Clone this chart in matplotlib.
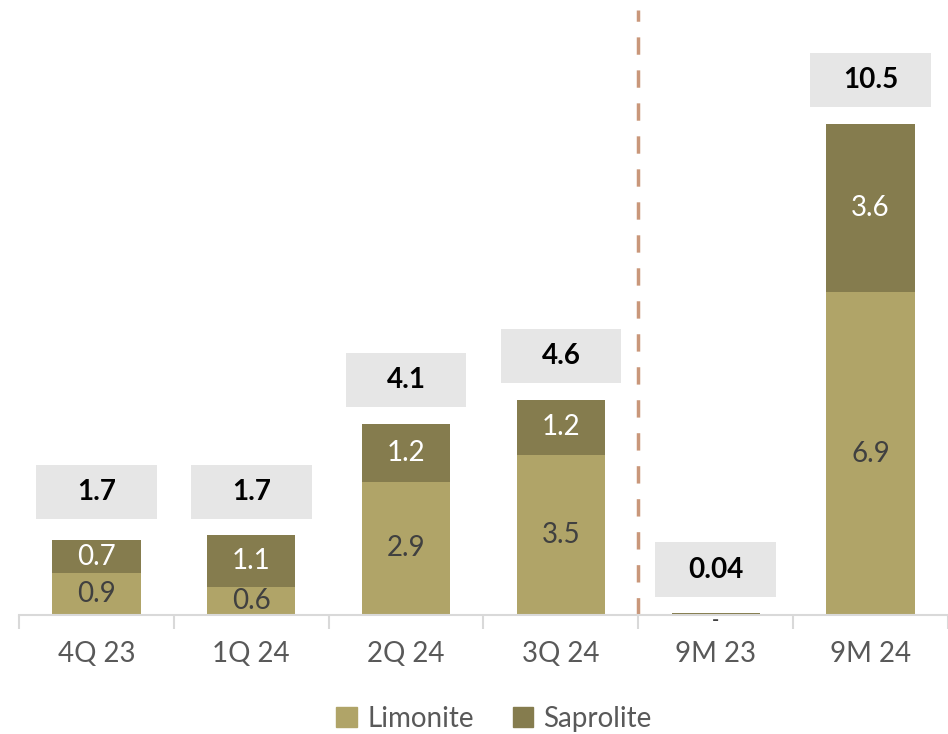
import matplotlib
matplotlib.use("Agg")
import matplotlib.pyplot as plt
from matplotlib.patches import Patch, Rectangle

categories = ["4Q 23", "1Q 24", "2Q 24", "3Q 24", "9M 23", "9M 24"]
limonite = [0.9, 0.6, 2.85, 3.42, 0.02, 6.9]
saprolite = [0.7, 1.1, 1.23, 1.18, 0.02, 3.6]
limonite_labels = ["0.9", "0.6", "2.9", "3.5", "", "6.9"]
saprolite_labels = ["0.7", "1.1", "1.2", "1.2", "-", "3.6"]
total_labels = ["1.7", "1.7", "4.1", "4.6", "0.04", "10.5"]
totals = [1.7, 1.7, 4.1, 4.6, 0.04, 10.5]

C_LIM = "#B0A468"
C_SAP = "#857C4E"
TXT = "#595959"
FS = 20

plt.rcParams["font.family"] = ["Lato", "DejaVu Sans"]

fig = plt.figure(figsize=(9.48, 7.34), dpi=100)
ax = fig.add_axes([19 / 948, 1 - 615 / 734, 1 - 19 / 948, (615 - 10) / 734])

x = list(range(len(categories)))
w = 0.57
ax.bar(x, limonite, w, color=C_LIM, label="Limonite", zorder=2)
ax.bar(x, saprolite, w, bottom=limonite, color=C_SAP, label="Saprolite", zorder=2)

ax.set_xlim(-0.5, 5.43)
ax.set_ylim(0, 12.93)

OFF = 0.93
for i in x:
    if limonite_labels[i]:
        ax.text(i, limonite[i] / 2, limonite_labels[i], ha="center", va="center",
                fontsize=FS, color="#404040", zorder=3)
    if saprolite_labels[i] == "-":
        ax.text(i, -0.12, "-", ha="center", va="center", fontsize=14,
                color="#404040", fontweight="bold", zorder=3)
    elif saprolite_labels[i]:
        ax.text(i, limonite[i] + saprolite[i] / 2, saprolite_labels[i], ha="center",
                va="center", fontsize=FS, color="white", zorder=3)
    ax.text(i, totals[i] + OFF, total_labels[i], ha="center", va="center",
            fontsize=FS, fontweight="bold", color="black", zorder=4)
    ax.add_patch(Rectangle((i - 0.39, totals[i] + OFF - 0.58), 0.78, 1.16,
                           facecolor="#E6E6E6", edgecolor="none", zorder=3))

ax.axvline(3.5, color="#C9977A", linestyle=(0, (5, 4.5)), linewidth=2.5, zorder=1)

for s in ["top", "right", "left"]:
    ax.spines[s].set_visible(False)
ax.spines["bottom"].set_color("#D9D9D9")
ax.spines["bottom"].set_linewidth(1.5)
ax.set_yticks([])
ax.set_xticks(x)
ax.set_xticklabels(categories, fontsize=FS, color=TXT)
ax.tick_params(axis="x", length=0, pad=19)
ax.set_xticks([-0.5 + k for k in range(7)], minor=True)
ax.tick_params(axis="x", which="minor", length=10, width=1.5, color="#D9D9D9", direction="out")

handles = [Patch(color=C_LIM, label="Limonite"), Patch(color=C_SAP, label="Saprolite")]
fig.legend(handles=handles, loc="center", bbox_to_anchor=(494 / 948, 1 - 719 / 734), ncol=2,
           frameon=False, fontsize=FS, labelcolor=TXT, handlelength=0.75, handleheight=0.75,
           handletextpad=0.35, columnspacing=1.4)

fig.savefig("out.png", dpi=100)
